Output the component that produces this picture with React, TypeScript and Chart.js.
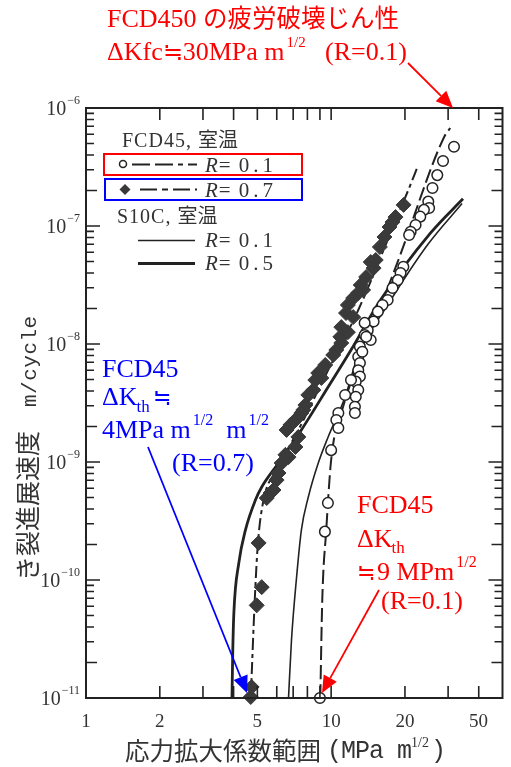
import React, { useEffect, useRef } from 'react';
import { Chart, registerables } from 'chart.js';
Chart.register(...registerables);

// ---- data (ΔK in MPa m^1/2, da/dN in m/cycle) ----
const fcd01K = [31.7, 28.6, 27.1, 25.9, 24.9, 25.1, 23.9, 23.1, 22.1, 21.1, 20.8, 19.7, 19.2, 18.7, 17.8, 17.0, 16.2, 15.5, 14.9, 14.5, 14.1, 13.7, 13.7, 13.9, 13.1, 12.9, 13.4, 13.1, 12.9, 13.1, 12.6, 12.9, 12.6, 12.5, 12.5, 12.05, 11.4, 10.7, 10.5, 10.7, 10.0, 9.7, 9.43, 9.0];
const fcd01V = [4.7e-7, 3.56e-7, 2.7e-7, 2.1e-7, 1.61e-7, 1.42e-7, 1.37e-7, 1.2e-7, 1.02e-7, 8.95e-8, 8.4e-8, 4.52e-8, 4.0e-8, 3.48e-8, 2.98e-8, 2.36e-8, 2.14e-8, 1.88e-8, 1.55e-8, 1.08e-8, 1.31e-8, 1.19e-8, 1.51e-8, 1.15e-8, 9.5e-9, 7.8e-9, 8.6e-9, 6.9e-9, 6.0e-9, 5.3e-9, 4.8e-9, 4.07e-9, 3.57e-9, 2.94e-9, 2.6e-9, 4.95e-9, 3.7e-9, 2.6e-9, 2.27e-9, 1.94e-9, 1.26e-9, 4.5e-10, 2.57e-10, 1.0e-11];

const fcd07K = [19.75, 18.3, 17.8, 17.3, 16.5, 15.8, 15.2, 14.9, 14.5, 13.9, 13.5, 13.2, 12.9, 12.3, 11.7, 11.5, 12.3, 11.2, 11.0, 10.9, 11.7, 11.0, 10.5, 10.2, 9.46, 9.12, 8.86, 8.62, 8.46, 8.07, 7.85, 7.7, 7.56, 7.15, 6.82, 6.58, 7.35, 7.15, 6.7, 6.28, 6.51, 6.1, 5.99, 5.82, 5.66, 5.46, 5.06, 5.21, 4.97, 4.74, 4.7];
const fcd07V = [1.51e-7, 1.19e-7, 1.08e-7, 9.8e-8, 8.07e-8, 6.64e-8, 5.15e-8, 4.4e-8, 4.95e-8, 3.7e-8, 2.87e-8, 3.16e-8, 2.71e-8, 2.45e-8, 2.14e-8, 1.83e-8, 1.69e-8, 1.19e-8, 1.39e-8, 1.15e-8, 1.26e-8, 1.02e-8, 8.9e-9, 8.07e-9, 6.64e-9, 5.15e-9, 5.68e-9, 4.95e-9, 4.07e-9, 3.7e-9, 3.04e-9, 2.76e-9, 2.6e-9, 2.27e-9, 2.06e-9, 1.87e-9, 1.63e-9, 1.34e-9, 1.1e-9, 9.8e-10, 1.15e-9, 8.07e-10, 7.03e-10, 5.79e-10, 5.46e-10, 4.95e-10, 2.06e-10, 8.7e-11, 6.1e-11, 1.24e-11, 1.02e-11];

const fcd01LineK = [9.03, 9.2, 9.55, 10.0, 11.18, 14.4, 19.0, 28.9, 30.6];
const fcd01LineV = [1e-11, 6.8e-11, 2.65e-10, 1.04e-9, 2.92e-9, 1.19e-8, 5.46e-8, 5.68e-7, 6.77e-7];

const fcd07LineK = [4.7, 4.88, 5.02, 5.3, 5.99, 7.35, 9.72, 12.9, 17.0, 20.8, 22.5];
const fcd07LineV = [1e-11, 6.8e-11, 1.98e-10, 4.76e-10, 8.55e-10, 1.87e-9, 6.0e-9, 1.94e-8, 7.6e-8, 2.1e-7, 3.16e-7];

const s10c05K = [3.94, 3.97, 4.01, 4.2, 4.47, 4.91, 5.21, 6.1, 7.56, 9.72, 12.05, 15.9, 25.4, 34.5];
const s10c05V = [1e-11, 2.55e-11, 5.25e-11, 1.39e-10, 2.65e-10, 4.76e-10, 6.14e-10, 9.8e-10, 1.87e-9, 4.32e-9, 8.9e-9, 2.36e-8, 8.7e-8, 1.7e-7];

const s10c01K = [6.7, 6.89, 7.21, 7.56, 8.07, 8.86, 9.72, 11.4, 12.9, 17.0, 24.7, 34.2];
const s10c01V = [1e-11, 3.1e-11, 1e-10, 2.65e-10, 5.05e-10, 9.8e-10, 1.63e-9, 3.56e-9, 8.07e-9, 2.14e-8, 6.9e-8, 1.55e-7];

const xTickLabels = [1, 2, 5, 10, 20, 50];
const yTickExps = [-6, -7, -8, -9, -10, -11];
const X_MIN = 1, X_MAX = 50, Y_MIN = 1e-11, Y_MAX = 1e-6;

const SERIF = '"Liberation Serif", "Noto Sans CJK JP", serif';
const CJK = '"Noto Sans CJK JP", "Liberation Serif", sans-serif';
const MONO = '"Liberation Mono", "DejaVu Sans Mono", monospace';
const INK = '#222';
const TXT = '#333';
const RED = '#ff0000';
const BLUE = '#0000ff';

const pts = (k: number[], v: number[]) => k.map((x, i) => ({ x, y: v[i] }));

type Part = { t: string; size: number; dy?: number; family?: string; italic?: boolean; ls?: number; gap?: number };
function rich(ctx: CanvasRenderingContext2D, x: number, y: number, parts: Part[], color: string) {
  ctx.fillStyle = color;
  ctx.textAlign = 'left';
  ctx.textBaseline = 'alphabetic';
  let cx = x;
  for (const p of parts) {
    cx += p.gap ?? 0;
    ctx.font = `${p.italic ? 'italic ' : ''}${p.size}px ${p.family ?? SERIF}`;
    (ctx as any).letterSpacing = `${p.ls ?? 0}px`;
    ctx.fillText(p.t, cx, y + (p.dy ?? 0));
    cx += ctx.measureText(p.t).width;
  }
  (ctx as any).letterSpacing = '0px';
  return cx;
}

function arrow(ctx: CanvasRenderingContext2D, x1: number, y1: number, x2: number, y2: number, color: string) {
  const a = Math.atan2(y2 - y1, x2 - x1);
  const L = 17, W = 7.5;
  const bx = x2 - L * Math.cos(a), by = y2 - L * Math.sin(a);
  ctx.strokeStyle = color;
  ctx.fillStyle = color;
  ctx.lineWidth = 1.8;
  ctx.setLineDash([]);
  ctx.beginPath();
  ctx.moveTo(x1, y1);
  ctx.lineTo(bx, by);
  ctx.stroke();
  ctx.beginPath();
  ctx.moveTo(x2, y2);
  ctx.lineTo(bx + W * Math.sin(a), by - W * Math.cos(a));
  ctx.lineTo(bx - W * Math.sin(a), by + W * Math.cos(a));
  ctx.closePath();
  ctx.fill();
}

const decor = {
  id: 'decor',
  afterDraw(chart: any) {
    const ctx: CanvasRenderingContext2D = chart.ctx;
    const xs = chart.scales.x, ys = chart.scales.y;
    const { left, right, top, bottom } = chart.chartArea;
    ctx.save();

    // frame
    ctx.strokeStyle = INK;
    ctx.lineWidth = 2;
    ctx.setLineDash([]);
    ctx.strokeRect(left, top, right - left, bottom - top);

    // y ticks (left & right, inward)
    ctx.lineWidth = 1.6;
    for (let d = -11; d <= -6; d++) {
      for (let m = 1; m <= 9; m++) {
        const v = m * Math.pow(10, d);
        if (v > Y_MAX * 1.0001) break;
        const py = ys.getPixelForValue(v);
        const len = m === 1 ? 14 : m === 2 ? 11 : 8;
        ctx.beginPath();
        ctx.moveTo(left, py); ctx.lineTo(left + len, py);
        ctx.moveTo(right, py); ctx.lineTo(right - len, py);
        ctx.stroke();
      }
    }
    // x ticks (top & bottom, inward)
    for (let d = 0; d <= 1; d++) {
      for (let m = 1; m <= 9; m++) {
        const v = m * Math.pow(10, d);
        if (v <= X_MIN || v >= X_MAX) continue;
        const px = xs.getPixelForValue(v);
        ctx.beginPath();
        ctx.moveTo(px, bottom); ctx.lineTo(px, bottom - 12);
        ctx.moveTo(px, top); ctx.lineTo(px, top + 12);
        ctx.stroke();
      }
    }

    // y tick labels 10^n
    for (const e of yTickExps) {
      const py = ys.getPixelForValue(Math.pow(10, e));
      const sup = '\u2212' + Math.abs(e);
      ctx.font = `12px ${SERIF}`;
      const sw = ctx.measureText(sup).width;
      ctx.font = `20px ${SERIF}`;
      const bw = ctx.measureText('10').width;
      const sx = 80 - sw;
      rich(ctx, sx - bw - 1, py + 7, [{ t: '10', size: 20 }], TXT);
      rich(ctx, sx, py - 4, [{ t: sup, size: 12 }], TXT);
    }
    // x tick labels
    ctx.font = `19px ${SERIF}`;
    ctx.fillStyle = TXT;
    ctx.textAlign = 'center';
    ctx.textBaseline = 'alphabetic';
    for (const v of xTickLabels) {
      let px = xs.getPixelForValue(v);
      if (px > right - 24) px = right - 24;
      ctx.fillText(String(v), px, 727);
    }

    // axis titles
    let cx = rich(ctx, 125, 760, [{ t: '応力拡大係数範囲', size: 24.5, family: CJK }], TXT);
    cx = rich(ctx, 327, 758, [{ t: '(MPa m', size: 25, family: MONO, ls: -1 }], TXT);
    cx = rich(ctx, cx, 758, [{ t: '1/2', size: 14, dy: -11, family: SERIF }], TXT);
    rich(ctx, cx + 2, 758, [{ t: ')', size: 25, family: MONO }], TXT);

    ctx.save();
    ctx.translate(37, 581);
    ctx.rotate(-Math.PI / 2);
    rich(ctx, 0, 0, [{ t: 'き裂進展速度', size: 25, family: CJK }], TXT);
    rich(ctx, 174, -1, [{ t: 'm/cycle', size: 21, family: MONO, ls: 0.5 }], TXT);
    ctx.restore();

    // ---- legend ----
    ctx.textBaseline = 'alphabetic';
    rich(ctx, 122, 147, [{ t: 'FCD45, ', size: 20, ls: 1 }, { t: '室温', size: 20, family: CJK }], TXT);
    const rowR = (y: number, val: string) => {
      rich(ctx, 205, y + 7, [{ t: 'R', size: 21, italic: true }, { t: '=', size: 21, gap: 1 }, { t: val, size: 21, gap: 8, ls: 4 }], TXT);
    };
    // R=0.1 FCD45 (red box)
    ctx.strokeStyle = RED; ctx.lineWidth = 2; ctx.setLineDash([]);
    ctx.strokeRect(104, 154, 198, 21);
    ctx.strokeStyle = INK; ctx.lineWidth = 1.5;
    ctx.beginPath(); ctx.arc(123, 164, 3.5, 0, Math.PI * 2); ctx.fillStyle = '#fff'; ctx.fill(); ctx.stroke();
    ctx.lineWidth = 2; ctx.setLineDash([18, 5, 18, 5, 5, 5]);
    ctx.beginPath(); ctx.moveTo(132, 164.5); ctx.lineTo(197, 164.5); ctx.stroke();
    ctx.setLineDash([]);
    rowR(164.5, '0.1');
    // R=0.7 FCD45 (blue box)
    ctx.strokeStyle = BLUE; ctx.lineWidth = 2;
    ctx.strokeRect(105, 179, 197, 21);
    ctx.fillStyle = '#3a3a3a';
    ctx.beginPath(); ctx.moveTo(125, 184); ctx.lineTo(130.5, 189.5); ctx.lineTo(125, 195); ctx.lineTo(119.5, 189.5); ctx.closePath(); ctx.fill();
    ctx.strokeStyle = INK; ctx.lineWidth = 2; ctx.setLineDash([17, 5, 6, 5]);
    ctx.beginPath(); ctx.moveTo(140, 189.5); ctx.lineTo(197, 189.5); ctx.stroke();
    ctx.setLineDash([]);
    rowR(189.5, '0.7');
    // S10C
    rich(ctx, 117, 223, [{ t: 'S10C, ', size: 20, ls: 1 }, { t: '室温', size: 20, family: CJK }], TXT);
    ctx.strokeStyle = INK; ctx.lineWidth = 1.5;
    ctx.beginPath(); ctx.moveTo(138, 240.5); ctx.lineTo(195, 240.5); ctx.stroke();
    rowR(240, '0.1');
    ctx.lineWidth = 3;
    ctx.beginPath(); ctx.moveTo(138, 263.5); ctx.lineTo(195, 263.5); ctx.stroke();
    rowR(263, '0.5');

    // ---- annotations ----
    rich(ctx, 107, 27, [{ t: 'FCD450 ', size: 26 }, { t: 'の疲労破壊じん性', size: 24.5, family: CJK }], RED);
    cx = rich(ctx, 107, 60, [{ t: 'ΔKfc', size: 26 }, { t: '≒', size: 24, family: CJK }, { t: '30MPa m', size: 26 }], RED);
    cx = rich(ctx, cx + 2, 60, [{ t: '1/2', size: 15, dy: -13 }], RED);
    rich(ctx, 325, 60, [{ t: '(R=0.1)', size: 26 }], RED);
    arrow(ctx, 408, 63, 453, 108, RED);

    // blue: FCD45 R=0.7 threshold
    rich(ctx, 102, 377, [{ t: 'FCD45', size: 26 }], BLUE);
    cx = rich(ctx, 102, 405, [{ t: 'ΔK', size: 26 }], BLUE);
    cx = rich(ctx, cx - 1, 412, [{ t: 'th', size: 17 }], BLUE);
    rich(ctx, cx + 3, 405, [{ t: '≒', size: 22, family: CJK }], BLUE);
    cx = rich(ctx, 102, 438, [{ t: '4MPa m', size: 26 }], BLUE);
    cx = rich(ctx, cx + 2, 438, [{ t: '1/2', size: 16, dy: -13 }], BLUE);
    cx = rich(ctx, cx, 438, [{ t: '  m', size: 26 }], BLUE);
    rich(ctx, cx + 2, 438, [{ t: '1/2', size: 16, dy: -13 }], BLUE);
    rich(ctx, 172, 471, [{ t: '(R=0.7)', size: 26 }], BLUE);
    arrow(ctx, 148, 447, 247, 693, BLUE);

    // red: FCD45 R=0.1 threshold
    rich(ctx, 357, 513, [{ t: 'FCD45', size: 26 }], RED);
    cx = rich(ctx, 357, 547, [{ t: 'ΔK', size: 26 }], RED);
    rich(ctx, cx - 1, 553, [{ t: 'th', size: 17 }], RED);
    cx = rich(ctx, 357, 580, [{ t: '≒', size: 22, family: CJK }, { t: '9 MPm', size: 26, gap: 2 }], RED);
    rich(ctx, cx + 2, 580, [{ t: '1/2', size: 16, dy: -13 }], RED);
    rich(ctx, 381, 609, [{ t: '(R=0.1)', size: 26 }], RED);
    arrow(ctx, 379, 590, 322, 693, RED);

    ctx.restore();
  },
};

export default function App() {
  const ref = useRef<HTMLCanvasElement | null>(null);
  useEffect(() => {
    if (!ref.current) return;
    const lineBase = { showLine: true, pointRadius: 0, borderColor: INK, fill: false, cubicInterpolationMode: 'monotone' as const, order: 2 };
    const chart = new Chart(ref.current, {
      type: 'scatter',
      data: {
        datasets: [
          { label: 'FCD45 R=0.1', data: pts(fcd01K, fcd01V), pointStyle: 'circle', pointRadius: 5.3, pointBackgroundColor: '#fff', pointBorderColor: INK, pointBorderWidth: 1.5, order: 0, clip: false } as any,
          { label: 'FCD45 R=0.7', data: pts(fcd07K, fcd07V), pointStyle: 'rectRot', pointRadius: 7.5, pointBackgroundColor: '#3a3a3a', pointBorderColor: '#3a3a3a', pointBorderWidth: 1, order: 1, clip: false } as any,
          { ...lineBase, label: 'FCD45 R=0.1 line', data: pts(fcd01LineK, fcd01LineV), borderWidth: 2, borderDash: [14, 5] } as any,
          { ...lineBase, label: 'FCD45 R=0.7 line', data: pts(fcd07LineK, fcd07LineV), borderWidth: 2, borderDash: [12, 4, 4, 4] } as any,
          { ...lineBase, label: 'S10C R=0.1', data: pts(s10c01K, s10c01V), borderWidth: 1.6 } as any,
          { ...lineBase, label: 'S10C R=0.5', data: pts(s10c05K, s10c05V), borderWidth: 2.8 } as any,
        ],
      },
      options: {
        animation: false,
        responsive: false,
        devicePixelRatio: 1,
        layout: { padding: { left: 86, right: 5.5, top: 108, bottom: 69 } },
        scales: {
          x: { type: 'logarithmic', min: X_MIN, max: X_MAX, display: false },
          y: { type: 'logarithmic', min: Y_MIN, max: Y_MAX, display: false },
        },
        plugins: { legend: { display: false }, tooltip: { enabled: false } },
        events: [],
      },
      plugins: [decor],
    });
    return () => chart.destroy();
  }, []);
  return (
    <div style={{ position: 'fixed', left: 0, top: 0, width: 511, height: 767, background: '#fff' }}>
      <canvas ref={ref} width={511} height={767} style={{ display: 'block' }} />
    </div>
  );
}
